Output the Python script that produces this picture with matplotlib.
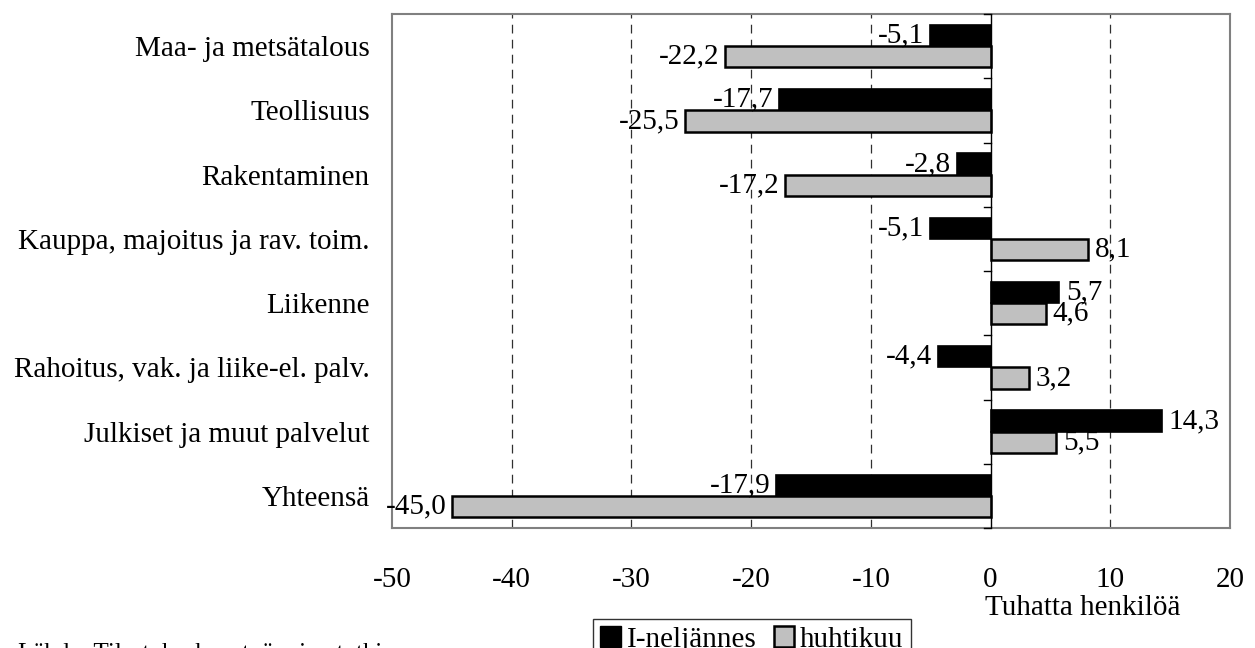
import matplotlib
matplotlib.use("Agg")
import matplotlib.pyplot as plt
from matplotlib.patches import Patch
import numpy as np

categories = ["Maa- ja metsätalous", "Teollisuus", "Rakentaminen",
              "Kauppa, majoitus ja rav. toim.", "Liikenne",
              "Rahoitus, vak. ja liike-el. palv.", "Julkiset ja muut palvelut",
              "Yhteensä"]
q1_values = [-5.1, -17.7, -2.8, -5.1, 5.7, -4.4, 14.3, -17.9]
april_values = [-22.2, -25.5, -17.2, 8.1, 4.6, 3.2, 5.5, -45.0]
series_names = ["I-neljännes", "huhtikuu"]
xticks = [-50, -40, -30, -20, -10, 0, 10, 20]

plt.rcParams['font.family'] = ['Liberation Serif', 'DejaVu Serif']
FS = 21

fig = plt.figure(figsize=(12.55, 6.48), dpi=100)
ax = fig.add_axes([392/1255, 1-528/648, (1230-392)/1255, (528-14)/648])

y = np.arange(len(categories))
h = 0.33
ax.barh(y - h/2, q1_values, height=h, color='black', edgecolor='black', linewidth=1.2, zorder=3)
ax.barh(y + h/2, april_values, height=h, color='#C0C0C0', edgecolor='black', linewidth=1.8, zorder=3)

def fmt(v):
    return f"{v:.1f}".replace('.', ',')

for yi, v in zip(y - h/2, q1_values):
    ax.annotate(fmt(v), (v, yi), xytext=(-4 if v < 0 else 5, 0), textcoords='offset points',
                ha='right' if v < 0 else 'left', va='center', fontsize=FS, zorder=4)
for yi, v in zip(y + h/2, april_values):
    ax.annotate(fmt(v), (v, yi), xytext=(-4 if v < 0 else 5, 0), textcoords='offset points',
                ha='right' if v < 0 else 'left', va='center', fontsize=FS, zorder=4)

ax.set_xlim(-50, 20)
ax.set_ylim(len(categories) - 0.5, -0.5)
ax.set_xticks(xticks)
ax.set_xticklabels([str(t) for t in xticks], fontsize=FS)
ax.tick_params(axis='x', length=0, pad=28)
ax.set_yticks(y)
ax.set_yticklabels(categories, fontsize=FS)
ax.tick_params(axis='y', length=0, pad=16)

for t in xticks:
    if t not in (-50, 0, 20):
        ax.axvline(t, color='#303030', linestyle=(0, (7, 5)), linewidth=0.9, zorder=1)
ax.axvline(0, color='black', linewidth=1.0, zorder=4)
for b in np.arange(len(categories) + 1) - 0.5:
    ax.plot([-0.55, 0], [b, b], color='black', linewidth=1.0, zorder=4, clip_on=False)

for s in ax.spines.values():
    s.set_color('#808080')
    s.set_linewidth(1.5)

fig.text(1083/1255, 1-608/648, "Tuhatta henkilöä", ha='center', va='center', fontsize=FS)
fig.text(18/1255, 1-654/648, "Lähde: Tilastokeskus, työvoimatutkimus", ha='left', va='center', fontsize=18)

handles = [Patch(facecolor='black', edgecolor='black'),
           Patch(facecolor='#C0C0C0', edgecolor='black', linewidth=1.8)]
leg = fig.legend(handles, series_names, loc='upper center', bbox_to_anchor=(752/1255, 1-619/648),
                 ncol=2, fontsize=FS, frameon=True, fancybox=False, edgecolor='black',
                 handlelength=0.7, handleheight=0.7, handletextpad=0.2, columnspacing=0.6,
                 borderpad=0.25, borderaxespad=0)
leg.get_frame().set_linewidth(1.0)

fig.savefig("out.png", dpi=100)
